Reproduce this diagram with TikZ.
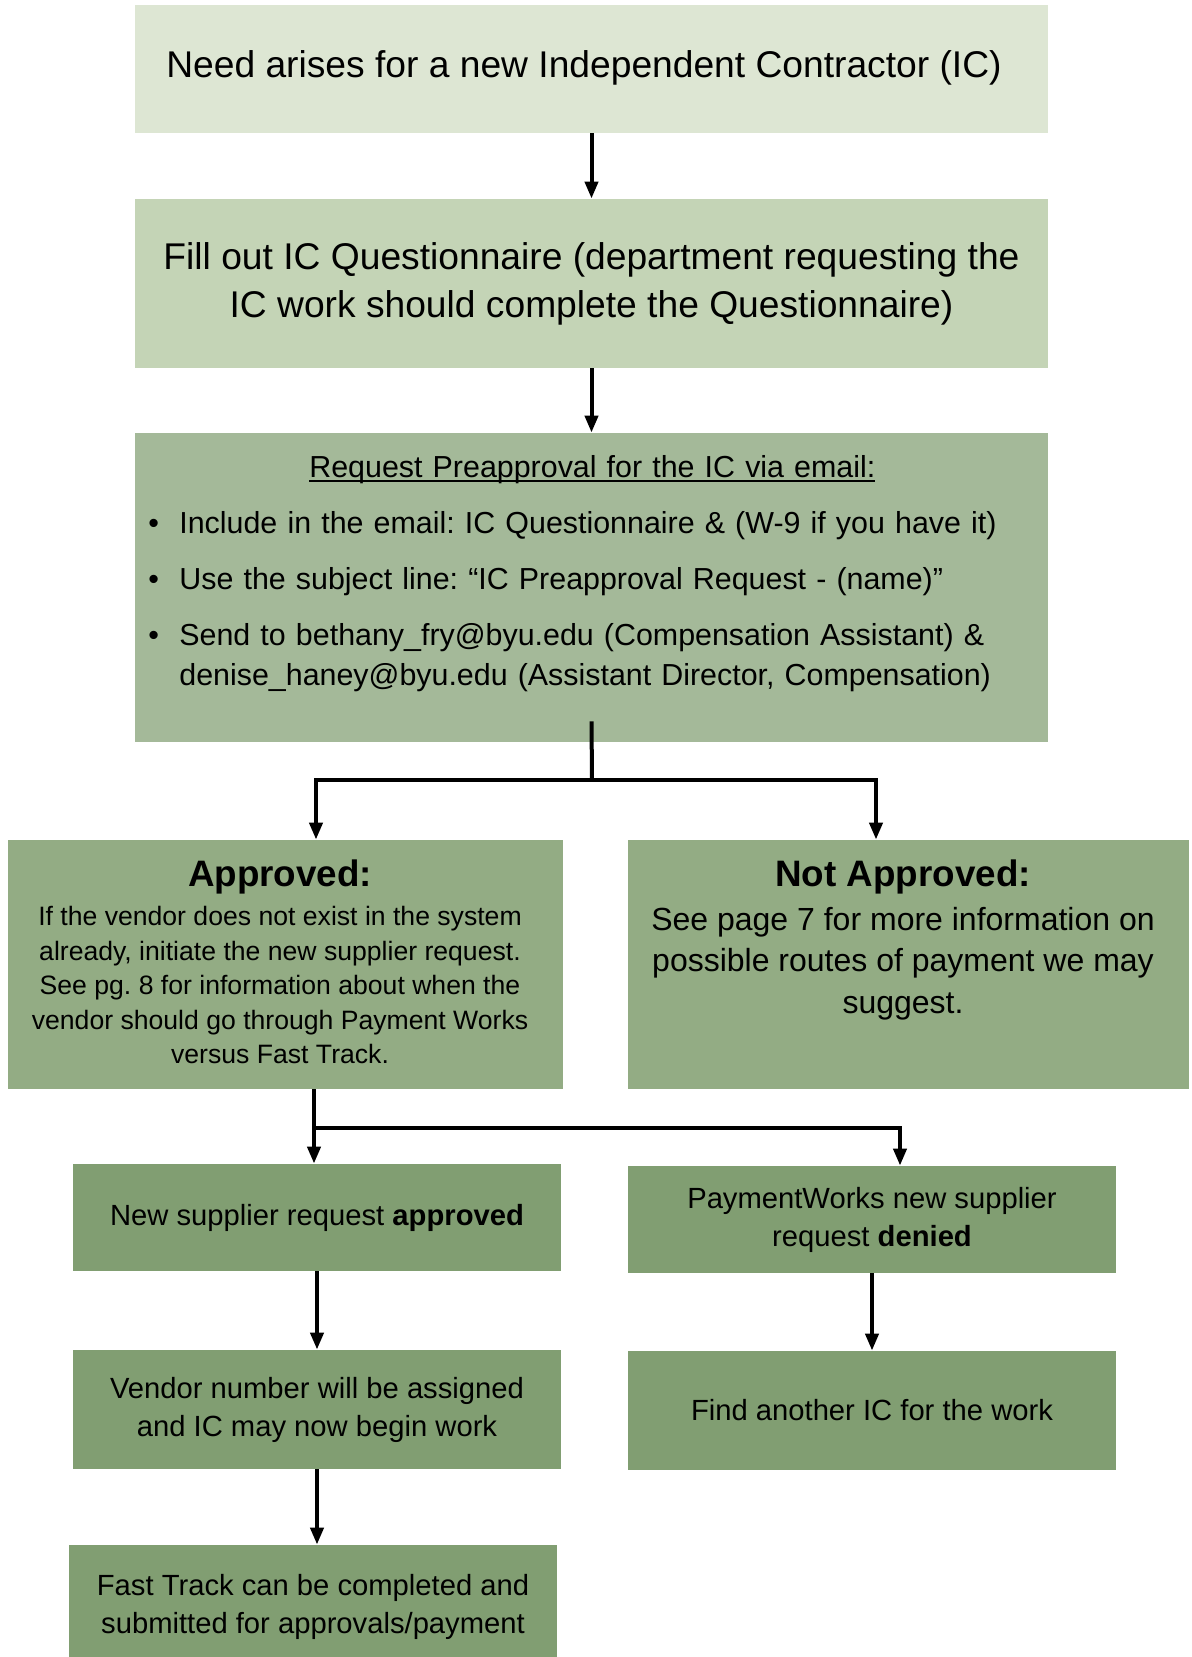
\documentclass[tikz,border=0pt]{standalone}
\usepackage{fontspec}
\setmainfont{Liberation Sans}
\usetikzlibrary{arrows.meta,positioning}
\frenchspacing
\definecolor{sageA}{HTML}{DDE6D3}
\definecolor{sageB}{HTML}{C4D4B6}
\definecolor{sageC}{HTML}{A4B999}
\definecolor{sageD}{HTML}{93AC84}
\definecolor{sageE}{HTML}{819E72}
\newcommand{\ulword}[1]{\leavevmode\setbox0=\hbox{#1}\rlap{\rule[-2.2pt]{\wd0}{0.9pt}}\box0}
\newcommand{\icitem}[1]{\par\vspace{8pt}\noindent\hangindent=15.5pt\hangafter=1\makebox[15.5pt][l]{\textbullet}#1\par}

\begin{document}
\begin{tikzpicture}[x=0.5pt,y=-0.5pt,
    flowbox/.style={rectangle,inner sep=0pt,align=center},
    bigtext/.style={font=\fontsize{18.6pt}{24pt}\selectfont},
    smalltext/.style={font=\fontsize{14.6pt}{19pt}\selectfont},
    flowline/.style={line width=2pt},
    flowarrow/.style={flowline,-{Triangle[length=8.5pt,width=6.5pt]}}]
  \path[use as bounding box] (0,0) rectangle (1191,1657);
  \clip (0,0) rectangle (1191,1657);
  % first three steps
  \node[flowbox,fill=sageA,minimum width=456.5pt,minimum height=64pt] (need) at (591.5,69) {};
  \node[bigtext,inner sep=0pt] (needtxt) at (584,67.5)
    {Need arises for a new Independent Contractor (IC)};
  \node[flowbox,bigtext,fill=sageB,minimum width=456.5pt,minimum height=84.5pt] (quest) at (591.5,283.5)
    {Fill out IC Questionnaire (department requesting the\\IC work should complete the Questionnaire)};
  \node[flowbox,fill=sageC,minimum width=456.5pt,minimum height=154.5pt] (preapp) at (591.5,587.5) {};
  \node[anchor=north west,inner sep=0pt,text width=444pt,align=left,
    font=\fontsize{15.2pt}{20pt}\selectfont] (preapptxt) at (148,455)
    {\centerline{\ulword{Request Preapproval for the IC via email:}}%
     \icitem{Include in the email: IC Questionnaire \& (W-9 if you have it)}%
     \icitem{Use the subject line: “IC Preapproval Request - (name)”}%
     \icitem{Send to bethany\_fry@byu.edu (Compensation Assistant) \&\hfil\break
       denise\_haney@byu.edu (Assistant Director, Compensation)}};
  % decision
  \node[flowbox,fill=sageD,minimum width=277.5pt,minimum height=124.5pt] (appr) at (285.5,964.5) {};
  \node[anchor=north,inner sep=0pt,align=center,font=\fontsize{13.3pt}{17.25pt}\selectfont] (apprtxt)
    at ([xshift=-2.75pt,yshift=-10pt]appr.north)
    {{\fontsize{18.4pt}{20pt}\selectfont\bfseries Approved:}\\[2.4pt]
     If the vendor does not exist in the system\\
     already, initiate the new supplier request.\\
     See pg. 8 for information about when the\\
     vendor should go through Payment Works\\
     versus Fast Track.};
  \node[flowbox,fill=sageD,minimum width=280.5pt,minimum height=124.5pt] (notappr) at (908.5,964.5) {};
  \node[anchor=north,inner sep=0pt,align=center,font=\fontsize{16pt}{20.8pt}\selectfont] (notapprtxt)
    at ([xshift=-2.75pt,yshift=-10pt]notappr.north)
    {{\fontsize{18.4pt}{20pt}\selectfont\bfseries Not Approved:}\\[1pt]
     See page 7 for more information on\\
     possible routes of payment we may\\
     suggest.};
  % supplier request outcomes
  \node[flowbox,smalltext,fill=sageE,minimum width=244pt,minimum height=53.5pt] (newsup) at (317,1217.5)
    {New supplier request \textbf{approved}};
  \node[flowbox,smalltext,fill=sageE,minimum width=244pt,minimum height=53.5pt] (denied) at (872,1219.5)
    {PaymentWorks new supplier\\request \textbf{denied}};
  \node[flowbox,smalltext,fill=sageE,minimum width=244pt,minimum height=59.5pt] (vendor) at (317,1409.5)
    {Vendor number will be assigned\\and IC may now begin work};
  \node[flowbox,smalltext,fill=sageE,minimum width=244pt,minimum height=59.5pt] (find) at (872,1410.5)
    {Find another IC for the work};
  \node[flowbox,smalltext,fill=sageE,minimum width=244pt,minimum height=62pt] (fast) at (313,1607)
    {Fast Track can be completed and\\submitted for approvals/payment};
  % connectors
  \draw[flowarrow] (need) -- (quest);
  \draw[flowarrow] (quest) -- (preapp);
  \coordinate (split1) at (592,780);
  \draw[flowline] ([yshift=10.5pt]preapp.south) -- (split1);
  \draw[flowarrow] (split1) -| ([xshift=15.25pt]appr.north);
  \draw[flowarrow] (split1) -| ([xshift=-16.25pt]notappr.north);
  \coordinate (split2) at (314,1128);
  \draw[flowline] ([xshift=14.25pt]appr.south) -- (split2);
  \draw[flowarrow] (split2) -- (split2 |- newsup.north);
  \draw[flowarrow] (split2) -| ([xshift=14pt]denied.north);
  \draw[flowarrow] (newsup) -- (vendor);
  \draw[flowarrow] (denied) -- (find);
  \draw[flowarrow] (vendor.south) -- (vendor.south |- fast.north);
\end{tikzpicture}
\end{document}
